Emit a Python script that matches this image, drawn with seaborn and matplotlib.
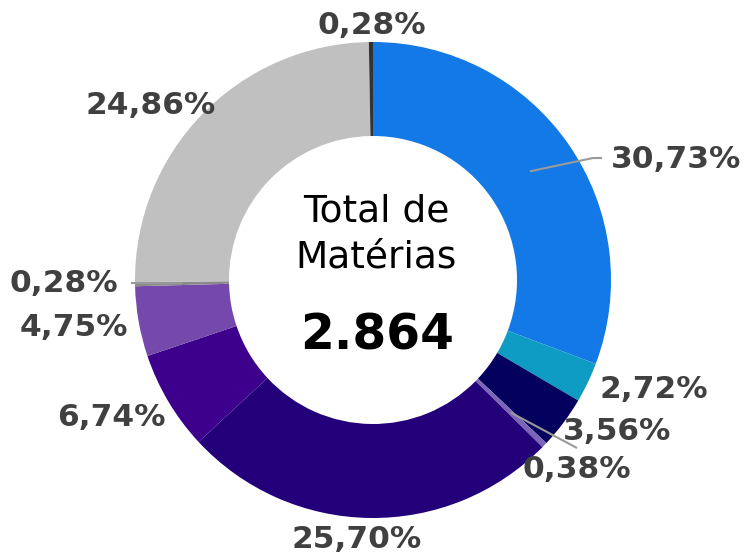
import numpy as np
import matplotlib.pyplot as plt
import seaborn as sns

sns.set_theme(style="white")
plt.rcParams['font.family'] = ['DejaVu Sans']

# data
shares = [30.73, 2.72, 3.56, 0.38, 25.70, 6.74, 4.75, 0.28, 24.86, 0.28]
labels = ['30,73%', '2,72%', '3,56%', '0,38%', '25,70%', '6,74%', '4,75%', '0,28%', '24,86%', '0,28%']
colors = ['#1379e6', '#0e9cc4', '#03005e', '#7c64b8', '#23007a',
          '#3d008c', '#7549ab', '#8a8a8a', '#c0c0c0', '#333333']
total = '2.864'

# label positions in pixel layout (x, y from top)
label_pos = [(676, 160), (654, 390), (617, 432), (577, 470), (357, 540),
             (111, 417), (74, 328), (64, 284), (151, 105), (372, 25)]
# slices that get a leader line: index -> end point
leaders = {0: [(593, 158), (602, 158)], 3: [(577, 448)], 7: [(131, 283)]}

W, H = 746, 555
cx, cy = 373, 280
r_out, r_in = 238, 144

fig = plt.figure(figsize=(W / 100, H / 100), dpi=100)
ax = fig.add_axes([0, 0, 1, 1])

ax.pie(shares, colors=colors, startangle=90, counterclock=False,
       radius=r_out, center=(cx, H - cy),
       wedgeprops=dict(width=r_out - r_in, linewidth=0))
ax.set_xlim(0, W)
ax.set_ylim(0, H)
ax.set_aspect('equal')
ax.axis('off')

# leader lines from slice middle
cum = np.cumsum([0] + shares[:-1])
r_mid = (r_out + r_in) / 2
for i, pts in leaders.items():
    ang = np.deg2rad(90 - (cum[i] + shares[i] / 2) * 3.6)
    xs = [cx + r_mid * np.cos(ang)] + [p[0] for p in pts]
    ys = [H - cy + r_mid * np.sin(ang)] + [H - p[1] for p in pts]
    ax.plot(xs, ys, color='#9a9a9a', lw=1.5, solid_capstyle='butt')

for lab, (px, py) in zip(labels, label_pos):
    ax.text(px, H - py, lab, ha='center', va='center', fontsize=22.5,
            fontweight='bold', color='#404040')

ax.text(cx + 3, H - 212, 'Total de', ha='center', va='center',
        fontsize=27, color='black')
ax.text(cx + 3, H - 258, 'Matérias', ha='center', va='center',
        fontsize=27, color='black')
ax.text(cx + 4, H - 335, total, ha='center', va='center',
        fontsize=35, fontweight='bold', color='black')

fig.savefig('out.png', dpi=100)
